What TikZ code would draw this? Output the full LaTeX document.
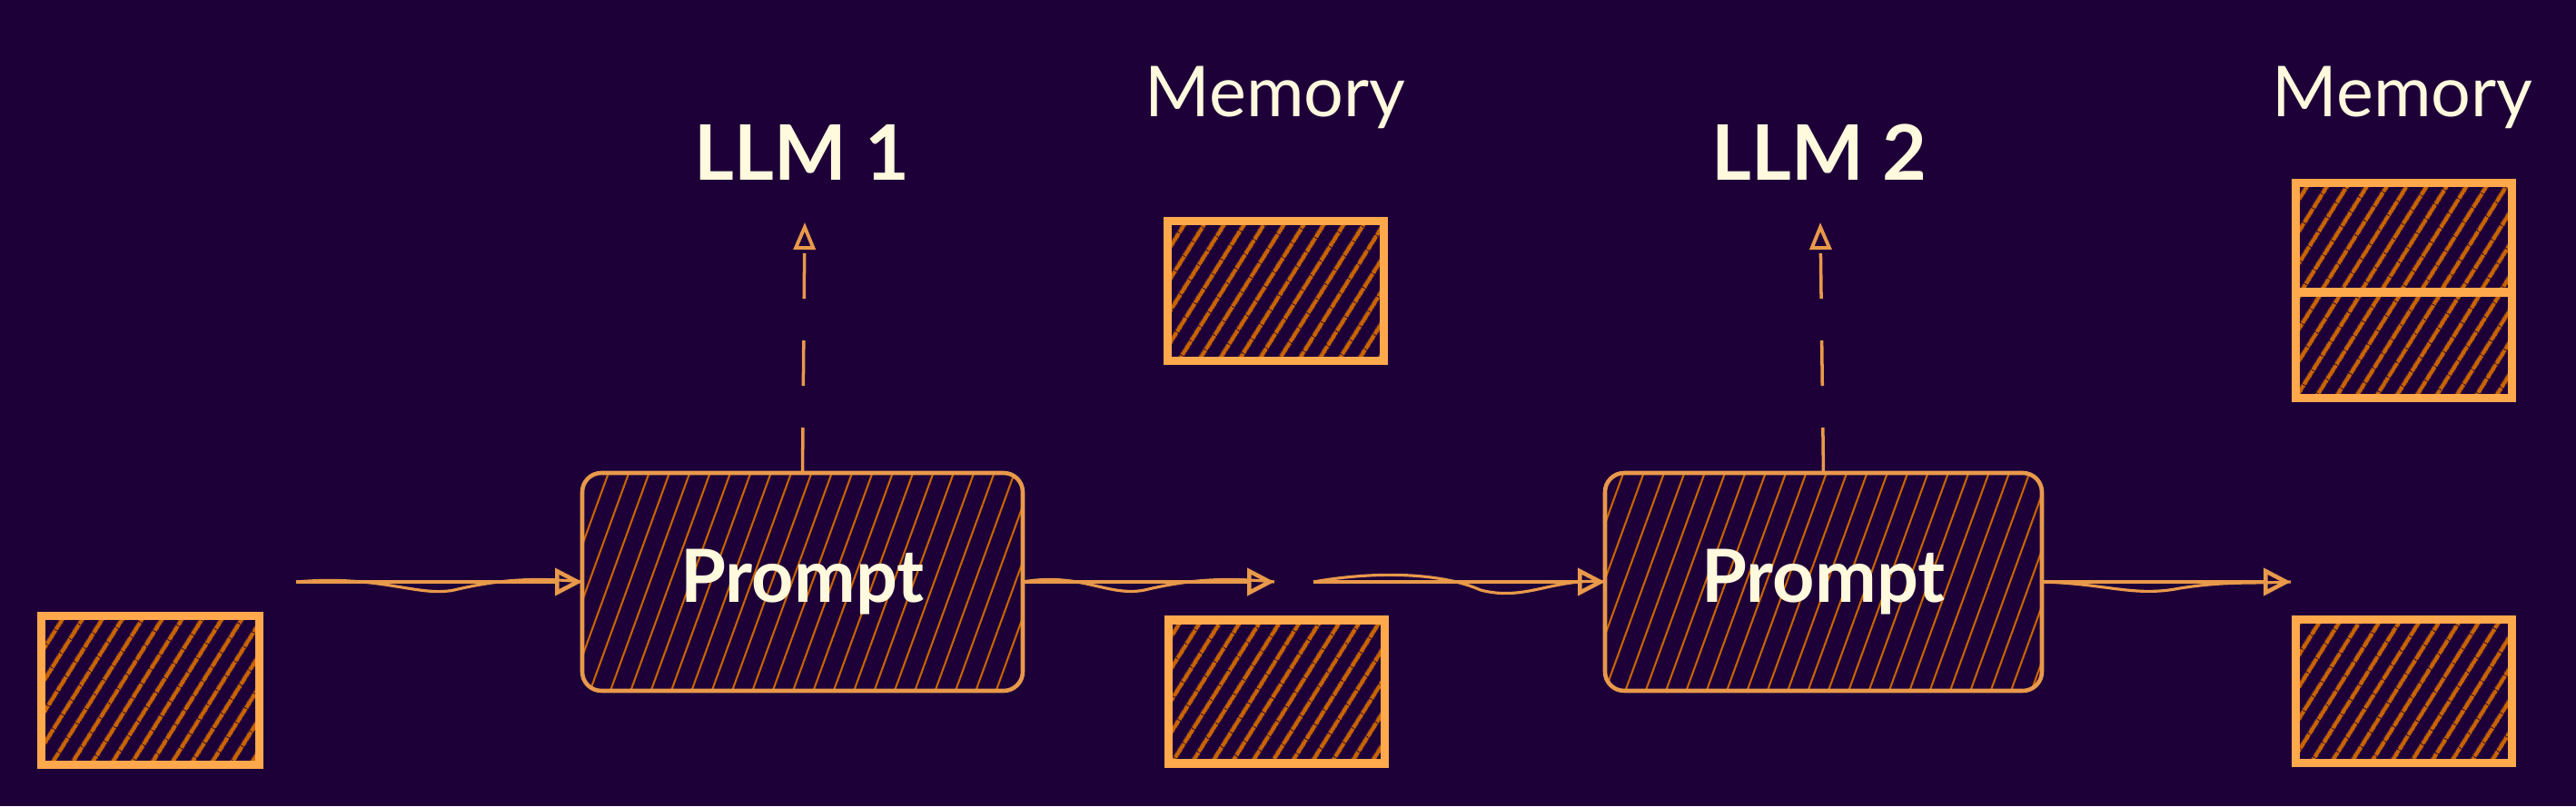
\documentclass[tikz,border=0pt]{standalone}
\usepackage{fontspec}
\setmainfont{Lato}
\usetikzlibrary{positioning,arrows.meta,patterns.meta}
\definecolor{nuit}{RGB}{30,0,56}
\definecolor{ocre}{RGB}{255,168,76}
\definecolor{ocrepale}{RGB}{232,153,74}
\definecolor{rouille}{RGB}{200,100,0}
\definecolor{creme}{RGB}{255,249,222}

\tikzset{
  cell/.style={draw=ocre, line width=2.6pt, outer sep=0pt,
    minimum width=2.38cm, minimum height=1.58cm,
    pattern={Lines[angle=58,distance=1.9mm,line width=1.4pt]}, pattern color=rouille},
  prompt/.style={draw=ocrepale, line width=1.3pt, rounded corners=6pt, outer sep=0pt,
    minimum width=4.85cm, minimum height=2.4cm,
    pattern={Lines[angle=70,distance=2.1mm,line width=0.6pt]}, pattern color=rouille,
    text=creme, font=\fontsize{23}{28}\selectfont\bfseries},
  label/.style={text=creme, anchor=base, inner sep=0pt},
  flow/.style={draw=ocrepale, line width=1.4pt, -{Triangle[open,length=3mm,width=3mm,line width=1.3pt]}},
  wobble/.style={draw=ocrepale, line width=0.9pt},
  call/.style={draw=ocrepale, line width=1pt, dash pattern=on 5mm off 4.6mm,
    -{Triangle[open,length=3mm,width=2.4mm,line width=1.1pt]}}
}

\begin{document}
\begin{tikzpicture}
\fill [nuit] (0,0) rectangle (28.36,8.88);
\useasboundingbox (0,0) rectangle (28.36,8.88);

% step 1
\node [cell, minimum height=1.64cm, minimum width=2.4cm] (in1) at (1.655,1.275) {};
\node [prompt] (prompt1) at (8.835,2.47) {Prompt};
\node [cell] (out1) at (14.055,1.26) {};
\node [cell, minimum height=1.54cm] (mem1) at (14.045,5.675) {};
\node [label, font=\fontsize{24}{30}\selectfont\bfseries] (llm1) at (8.83,6.90) {LLM 1};
\node [label, font=\fontsize{22}{26}\selectfont] (memlab1) at (14.04,7.60) {Memory};

% step 2
\node [prompt, minimum width=4.81cm] (prompt2) at (20.075,2.47) {Prompt};
\node [cell] (out2) at (26.465,1.265) {};
\node [cell, minimum height=1.205cm] (memtop) at (26.465,6.2625) {};
\node [cell, minimum height=1.165cm, below=0pt of memtop] (membot) {};
\node [label, font=\fontsize{24}{30}\selectfont\bfseries] (llm2) at (20.03,6.90) {LLM 2};
\node [label, font=\fontsize{22}{26}\selectfont] (memlab2) at (26.45,7.60) {Memory};

% free ends
\coordinate (start1) at (3.26,2.47);
\coordinate (end1) at (14.03,2.47);
\coordinate (start2) at (14.46,2.47);
\coordinate (end2) at (25.22,2.47);
\coordinate (tip1) at (8.86,6.43);
\coordinate (tip2) at (20.04,6.43);

% arrows
\draw [flow] (start1) -- (prompt1.west);
\draw [wobble] (start1) .. controls (4.2,2.55) and (4.6,2.3) .. (5.0,2.38) .. controls (5.5,2.5) and (5.9,2.52) .. (prompt1.west);
\draw [flow] (prompt1.east) -- (end1);
\draw [wobble] (prompt1.east) .. controls (11.9,2.58) and (12.2,2.3) .. (12.6,2.38) .. controls (13.1,2.5) and (13.5,2.52) .. (end1);
\draw [flow] (start2) -- (prompt2.west);
\draw [wobble] (start2) .. controls (15.2,2.6) and (15.9,2.56) .. (16.3,2.38) .. controls (16.8,2.25) and (17.1,2.52) .. (prompt2.west);
\draw [flow] (prompt2.east) -- (end2);
\draw [wobble] (prompt2.east) .. controls (23.2,2.45) and (23.5,2.3) .. (24,2.4) .. controls (24.5,2.48) and (24.8,2.45) .. (end2);

\draw [call] (prompt1.north) -- (tip1);
\draw [call] (prompt2.north) -- (tip2);
\end{tikzpicture}
\end{document}
